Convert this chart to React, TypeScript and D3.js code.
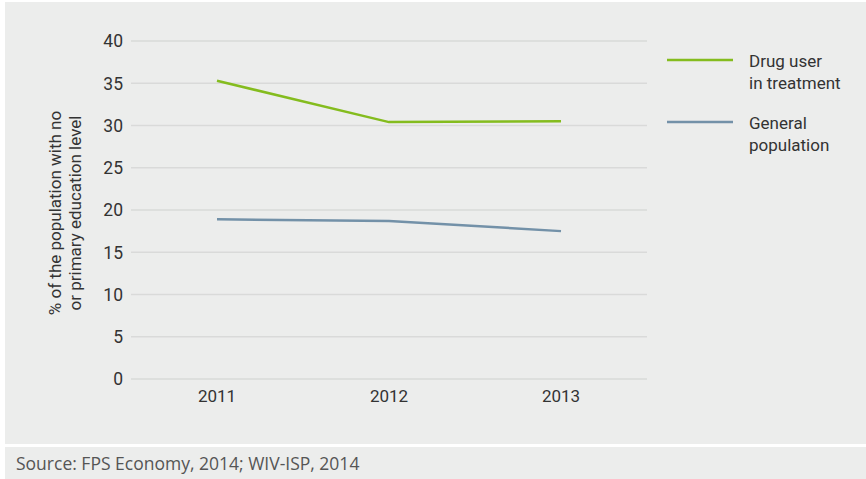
import React from "react";
import * as d3 from "d3";

const years = ["2011", "2012", "2013"];
const drugUsers = [35.3, 30.4, 30.5];
const generalPop = [18.9, 18.7, 17.5];
const yTicks = [0, 5, 10, 15, 20, 25, 30, 35, 40];
const seriesNames = ["Drug user|in treatment", "General|population"];
const seriesColors = ["#84bc1e", "#7391a8"];
const yTitle = ["% of the population with no", "or primary education level"];
const source = "Source: FPS Economy, 2014; WIV-ISP, 2014";

const W = 866;
const H = 479;
const FONT = "Roboto, 'Open Sans', sans-serif";

export default function App() {
  const x = d3.scalePoint<string>().domain(years).range([131, 647]).padding(0.5);
  const y = d3.scaleLinear().domain([0, 40]).range([379, 41]);
  const line = d3
    .line<number>()
    .x((_, i) => x(years[i]) as number)
    .y((d) => y(d));
  const series = [drugUsers, generalPop];

  return (
    <svg
      width={W}
      height={H}
      style={{ position: "absolute", left: 0, top: 0 }}
      fontFamily={FONT}
    >
      <rect x={0} y={0} width={W} height={H} fill="#ffffff" />
      <rect x={5} y={2} width={W - 5} height={442} fill="#ecedec" />
      <rect x={5} y={447} width={W - 5} height={32} fill="#ecedec" />

      {yTicks.map((t) => (
        <g key={t}>
          <line x1={131} x2={647} y1={y(t)} y2={y(t)} stroke="#d9dad9" strokeWidth={1.5} />
          <text x={123} y={y(t)} dy="0.36em" textAnchor="end" fontSize={17.5} fill="#333">
            {t}
          </text>
        </g>
      ))}

      {years.map((yr) => (
        <text key={yr} x={x(yr)} y={402} textAnchor="middle" fontSize={17} fill="#333">
          {yr}
        </text>
      ))}

      <g transform={`translate(65, 213) rotate(-90)`}>
        {yTitle.map((t, i) => (
          <text key={i} x={0} y={-4 + i * 20} textAnchor="middle" fontSize={17} fill="#333">
            {t}
          </text>
        ))}
      </g>

      {series.map((s, i) => (
        <path
          key={i}
          d={line(s) || ""}
          fill="none"
          stroke={seriesColors[i]}
          strokeWidth={2.5}
        />
      ))}

      {seriesNames.map((n, i) => {
        const ly = 60 + i * 62;
        return (
          <g key={n}>
            <line x1={667} x2={733} y1={ly} y2={ly} stroke={seriesColors[i]} strokeWidth={2.5} />
            {n.split("|").map((part, j) => (
              <text key={j} x={749} y={ly + 7 + j * 22} fontSize={17} fill="#333">
                {part}
              </text>
            ))}
          </g>
        );
      })}

      <text x={16} y={470} fontSize={17.5} fill="#555" fontFamily="'Open Sans', sans-serif">
        {source}
      </text>
    </svg>
  );
}
